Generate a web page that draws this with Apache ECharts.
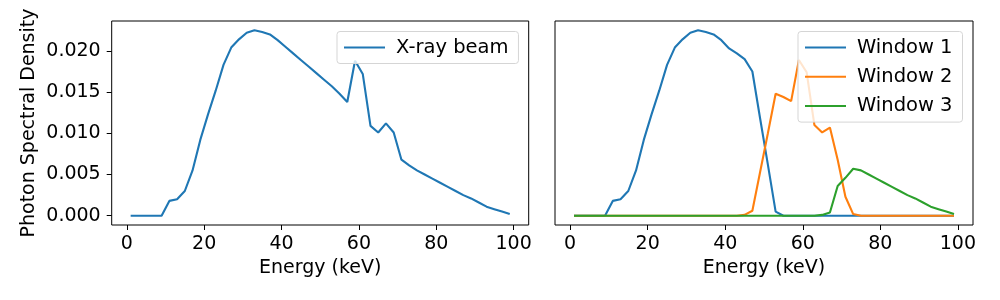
<!DOCTYPE html>
<html>
<head>
<meta charset="utf-8">
<script src="https://cdn.jsdelivr.net/npm/echarts@6/dist/echarts.min.js"></script>
<style>
html,body{margin:0;padding:0;background:#fff;}
#c{width:1000px;height:300px;}
</style>
</head>
<body>
<div id="c"></div>
<script>
const energy = [1,3,5,7,9,11,13,15,17,19,21,23,25,27,29,31,33,35,37,39,41,43,45,47,49,51,53,55,57,59,61,63,65,67,69,71,73,75,77,79,81,83,85,87,89,91,93,95,97,99];
const beam = [0,0,0,0,0,0.0018,0.0020,0.0030,0.0055,0.0092,0.0123,0.0152,0.0183,0.0204,0.0214,0.0222,0.0225,0.0223,0.0220,0.0213,0.0205,0.0197,0.0189,0.0181,0.0173,0.0165,0.0157,0.0148,0.0138,0.0188,0.0172,0.0109,0.0101,0.0112,0.0101,0.0068,0.0061,0.0055,0.0050,0.0045,0.0040,0.0035,0.0030,0.0025,0.0021,0.0016,0.0011,0.0008,0.0005,0.0002];
const window1 = [0,0,0,0,0,0.0018,0.0020,0.0030,0.0055,0.0092,0.0123,0.0152,0.0183,0.0204,0.0214,0.0222,0.0225,0.0223,0.0220,0.0213,0.0203,0.0197,0.0190,0.0175,0.0118,0.0062,0.0005,0,0,0,0,0,0,0,0,0,0,0,0,0,0,0,0,0,0,0,0,0,0,0];
const window2 = [0,0,0,0,0,0,0,0,0,0,0,0,0,0,0,0,0,0,0,0,0,0,0.0001,0.0006,0.0053,0.0100,0.0148,0.0144,0.0139,0.0189,0.0174,0.0110,0.0101,0.0107,0.0068,0.0023,0.0002,0,0,0,0,0,0,0,0,0,0,0,0,0];
const window3 = [0,0,0,0,0,0,0,0,0,0,0,0,0,0,0,0,0,0,0,0,0,0,0,0,0,0,0,0,0,0,0,0,0.0001,0.0004,0.0036,0.0046,0.0057,0.0055,0.0050,0.0045,0.0040,0.0035,0.0030,0.0025,0.0021,0.0016,0.0011,0.0008,0.0005,0.0002];
const xTicks = [0,20,40,60,80,100];
const yTicks = [0,0.005,0.010,0.015,0.020];

const FONT = 'DejaVu Sans';
const pairs = arr => energy.map((e,i)=>[e,arr[i]]);
const xAxisBase = (gi) => ({
  type:'value', gridIndex:gi, min:-3.9, max:103.9, position:'bottom',
  name:'Energy (keV)', nameLocation:'middle', nameGap:34,
  nameTextStyle:{fontFamily:FONT,fontSize:19,color:'#000'},
  axisLine:{show:false,onZero:false}, splitLine:{show:false},
  axisTick:{show:true,length:5,lineStyle:{color:'#000',width:1},customValues:xTicks},
  axisLabel:{fontFamily:FONT,fontSize:19,color:'#000',margin:10,customValues:xTicks,formatter:v=>String(Math.round(v))}
});
const yAxisBase = (gi, labels) => ({
  type:'value', gridIndex:gi, min:-0.001125, max:0.023625, position:'left',
  name: labels ? 'Photon Spectral Density' : '', nameLocation:'middle', nameGap:73,
  nameTextStyle:{fontFamily:FONT,fontSize:19,color:'#000'},
  axisLine:{show:false,onZero:false}, splitLine:{show:false},
  axisTick:{show:labels,length:5,lineStyle:{color:'#000',width:1},customValues:yTicks},
  axisLabel:{show:labels,fontFamily:FONT,fontSize:19,color:'#000',margin:11,customValues:yTicks,formatter:v=>v.toFixed(3)}
});
const lineSeries = (name, arr, color, gi) => ({
  type:'line', name, xAxisIndex:gi, yAxisIndex:gi, data:pairs(arr),
  symbol:'none', lineStyle:{color,width:2.1}, itemStyle:{color}, animation:false
});
const legendBase = (names, left) => ({
  data:names, left, top:31.5, orient:'vertical', icon:'rect', itemWidth:41, itemHeight:2,
  itemGap:9.3, padding:[6,10,6,7], backgroundColor:'rgba(255,255,255,0.8)',
  borderColor:'#d5d5d5', borderWidth:1, borderRadius:3,
  textStyle:{fontFamily:FONT,fontSize:19.5,color:'#000',padding:[0,0,0,6]}
});

const chart = echarts.init(document.getElementById('c'));
chart.setOption({
  animation:false,
  grid:[
    {left:111.7, top:21, width:417, height:204, show:true, borderColor:'#000', borderWidth:1, backgroundColor:'transparent'},
    {left:555, top:21, width:418, height:204, show:true, borderColor:'#000', borderWidth:1, backgroundColor:'transparent'}
  ],
  xAxis:[xAxisBase(0), xAxisBase(1)],
  yAxis:[yAxisBase(0,true), yAxisBase(1,false)],
  legend:[legendBase(['X-ray beam'],337), legendBase(['Window 1','Window 2','Window 3'],798)],
  series:[
    lineSeries('X-ray beam', beam, '#1f77b4', 0),
    lineSeries('Window 1', window1, '#1f77b4', 1),
    lineSeries('Window 2', window2, '#ff7f0e', 1),
    lineSeries('Window 3', window3, '#2ca02c', 1)
  ]
});
</script>
</body>
</html>
